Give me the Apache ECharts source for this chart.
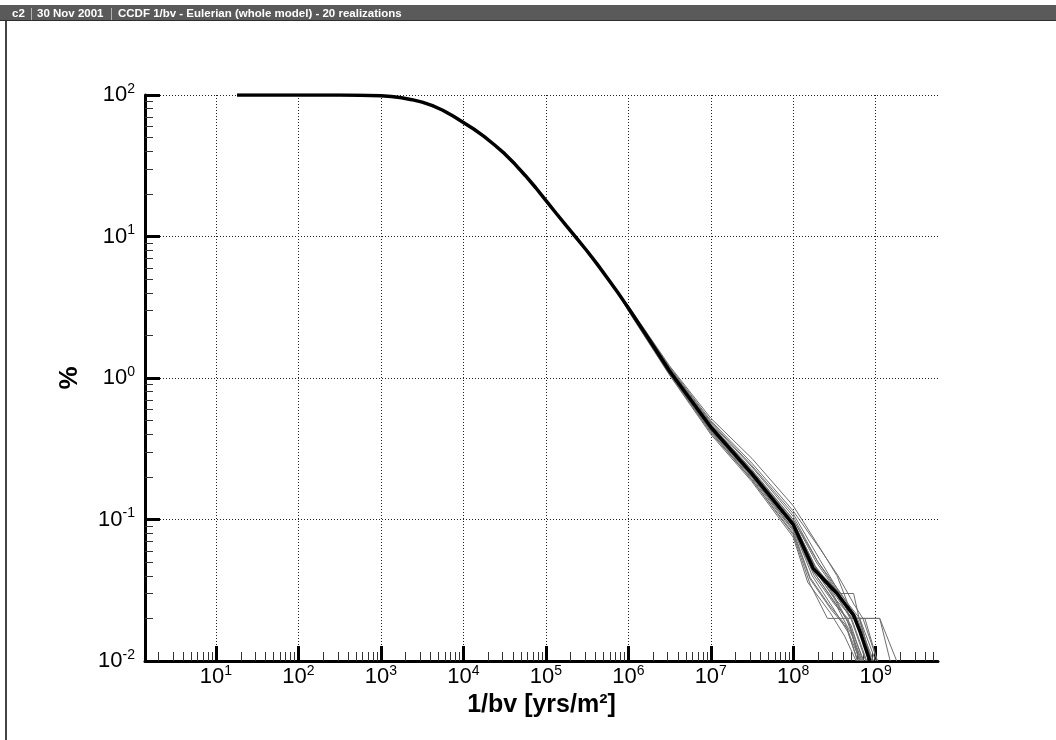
<!DOCTYPE html>
<html>
<head>
<meta charset="utf-8">
<script src="https://cdn.jsdelivr.net/npm/echarts@6/dist/echarts.min.js"></script>
<style>
html, body { margin: 0; padding: 0; background: #fff; }
#chart { width: 1056px; height: 740px; }
</style>
</head>
<body>
<div id="chart"></div>
<script>
// shared part of every realization (1/bv in yrs/m2, CCDF in %)
var headX = [18, 100, 316, 562, 1000, 1334, 1778, 2371, 3162, 4217, 5623, 7499, 10000, 13335, 17783, 23714,
    31623, 42170, 56234, 74989, 1e5, 133352, 177828, 237137, 316228, 421697, 562341, 749894];
var headY = [100, 100, 99.9, 99.6, 98.7, 97.5, 95.5, 92.7, 89, 84, 78, 71, 64, 57.5, 51, 44.5,
    38.5, 32.5, 27, 22.2, 18, 14.6, 11.9, 9.7, 7.9, 6.35, 5.05, 4.0];

// thick curve tail
var meanTail = [[1e6, 3.13], [1.78e6, 1.88], [3.16e6, 1.12], [5.62e6, 0.71], [1e7, 0.45], [3.16e7, 0.21],
    [1e8, 0.092], [1.75e8, 0.045], [3.4e8, 0.030], [5.4e8, 0.021], [6.5e8, 0.016], [8.5e8, 0.01]];

// the 20 realizations, tails from 1e6 on
var tails = [
    [[1e6, 3.05], [3.16e6, 1.10], [1e7, 0.43], [3.16e7, 0.20], [1e8, 0.085], [1.8e8, 0.04], [3.2e8, 0.025], [4.6e8, 0.02], [6.3e8, 0.01]],
    [[1e6, 3.18], [3.16e6, 1.15], [1e7, 0.47], [3.16e7, 0.22], [1e8, 0.10], [2e8, 0.05], [3.6e8, 0.03], [5e8, 0.02], [7.6e8, 0.01]],
    [[1e6, 3.10], [3.16e6, 1.12], [1e7, 0.45], [3.16e7, 0.21], [1e8, 0.094], [1.7e8, 0.05], [3e8, 0.03], [4.4e8, 0.02], [6.8e8, 0.01]],
    [[1e6, 3.22], [3.16e6, 1.20], [1e7, 0.50], [3.16e7, 0.25], [1e8, 0.115], [2.2e8, 0.06], [3.5e8, 0.04], [5.5e8, 0.025], [7e8, 0.02], [1.05e9, 0.01]],
    [[1e6, 3.00], [3.16e6, 1.06], [1e7, 0.41], [3.16e7, 0.19], [1e8, 0.078], [1.6e8, 0.035], [2.6e8, 0.02], [6.4e8, 0.02], [8.8e8, 0.01]],
    [[1e6, 3.15], [3.16e6, 1.14], [1e7, 0.46], [3.16e7, 0.22], [1e8, 0.097], [1.9e8, 0.045], [3.7e8, 0.03], [5.4e8, 0.03], [6.3e8, 0.02], [9e8, 0.01]],
    [[1e6, 3.08], [3.16e6, 1.10], [1e7, 0.44], [3.16e7, 0.205], [1e8, 0.09], [1.8e8, 0.042], [3.3e8, 0.025], [5.2e8, 0.015], [6.6e8, 0.01]],
    [[1e6, 3.25], [3.16e6, 1.22], [1e7, 0.52], [3.16e7, 0.27], [1e8, 0.125], [2.3e8, 0.058], [3.4e8, 0.04], [5.4e8, 0.02], [7.4e8, 0.02], [1.12e9, 0.02], [1.8e9, 0.01]],
    [[1e6, 3.12], [3.16e6, 1.13], [1e7, 0.45], [3.16e7, 0.215], [1e8, 0.095], [1.75e8, 0.046], [3.1e8, 0.028], [4.8e8, 0.018], [7.2e8, 0.01]],
    [[1e6, 2.98], [3.16e6, 1.05], [1e7, 0.40], [3.16e7, 0.185], [1e8, 0.075], [1.5e8, 0.036], [2.8e8, 0.022], [4.2e8, 0.015], [5.8e8, 0.01]],
    [[1e6, 3.20], [3.16e6, 1.17], [1e7, 0.48], [3.16e7, 0.235], [1e8, 0.105], [2e8, 0.05], [3.8e8, 0.03], [6e8, 0.02], [9.4e8, 0.01]],
    [[1e6, 3.14], [3.16e6, 1.11], [1e7, 0.44], [3.16e7, 0.21], [1e8, 0.092], [1.8e8, 0.044], [3.3e8, 0.027], [5.3e8, 0.02], [1.12e9, 0.02], [1.5e9, 0.01]],
    [[1e6, 3.06], [3.16e6, 1.09], [1e7, 0.43], [3.16e7, 0.20], [1e8, 0.086], [1.7e8, 0.04], [3e8, 0.024], [4.6e8, 0.016], [6.1e8, 0.01]],
    [[1e6, 3.17], [3.16e6, 1.15], [1e7, 0.47], [3.16e7, 0.225], [1e8, 0.10], [1.9e8, 0.05], [3.5e8, 0.03], [5.8e8, 0.02], [8.2e8, 0.01]],
    [[1e6, 3.02], [3.16e6, 1.07], [1e7, 0.42], [3.16e7, 0.19], [1e8, 0.08], [1.6e8, 0.038], [2.9e8, 0.023], [4.5e8, 0.017], [6e8, 0.01]],
    [[1e6, 3.11], [3.16e6, 1.12], [1e7, 0.45], [3.16e7, 0.21], [1e8, 0.094], [1.8e8, 0.045], [3.4e8, 0.028], [5.1e8, 0.02], [7.8e8, 0.01]],
    [[1e6, 3.21], [3.16e6, 1.18], [1e7, 0.49], [3.16e7, 0.24], [1e8, 0.11], [2.1e8, 0.052], [3.7e8, 0.03], [6.4e8, 0.02], [1.0e9, 0.01]],
    [[1e6, 3.09], [3.16e6, 1.11], [1e7, 0.44], [3.16e7, 0.205], [1e8, 0.09], [1.75e8, 0.043], [3.2e8, 0.026], [5e8, 0.018], [7e8, 0.01]],
    [[1e6, 3.13], [3.16e6, 1.13], [1e7, 0.46], [3.16e7, 0.215], [1e8, 0.096], [1.85e8, 0.047], [3.3e8, 0.03], [4.9e8, 0.02], [7.4e8, 0.02], [1.05e9, 0.01]],
    [[1e6, 3.04], [3.16e6, 1.08], [1e7, 0.42], [3.16e7, 0.195], [1e8, 0.083], [1.6e8, 0.039], [2.7e8, 0.025], [4.3e8, 0.018], [6.5e8, 0.01]]
];

var majorX = [10, 100, 1e3, 1e4, 1e5, 1e6, 1e7, 1e8, 1e9];
var majorY = [0.01, 0.1, 1, 10, 100];
var xMin = 1.377, xMax = 5.7e9;

var font = '"Liberation Sans", Arial, Helvetica, sans-serif';

function minorsOf(lo, hi) {
    var out = [];
    for (var p = Math.pow(10, Math.floor(Math.log10(lo))); p < hi; p *= 10) {
        for (var k = 2; k <= 9; k++) {
            var v = k * p;
            if (v > lo && v < hi) out.push(v);
        }
    }
    return out;
}

function powLabel(v) {
    return '{b|10}{s|' + Math.round(Math.log10(v)) + '}';
}
var labelRich = {
    b: { fontSize: 22, fontFamily: font, color: '#000', lineHeight: 26 },
    s: { fontSize: 14, fontFamily: font, color: '#000', lineHeight: 15, verticalAlign: 'top' }
};

var head = headX.map(function (x, i) { return [x, headY[i]]; });

var series = tails.map(function (t, i) {
    return {
        name: 'realization ' + (i + 1),
        type: 'line',
        data: head.concat(t),
        showSymbol: false,
        silent: true,
        lineStyle: { color: '#6e6e6e', width: 1 },
        z: 2
    };
});
series.push({
    name: 'mean',
    type: 'line',
    data: head.concat(meanTail),
    showSymbol: false,
    silent: true,
    lineStyle: { color: '#000', width: 3.5 },
    z: 3
});

var titleFont = 'bold 11.5px ' + font;

var myChart = echarts.init(document.getElementById('chart'));
myChart.setOption({
    backgroundColor: '#fff',
    animation: false,
    textStyle: { fontFamily: font },
    grid: { left: 145, top: 95, right: 118, bottom: 79, outerBoundsMode: 'none' },
    xAxis: [{
        type: 'log', logBase: 10, min: xMin, max: xMax,
        name: '1/bv [yrs/m²]', nameLocation: 'middle', nameGap: 28,
        nameTextStyle: { fontSize: 25, fontWeight: 'bold', color: '#000', fontFamily: font },
        axisLine: { lineStyle: { color: '#000', width: 3 } },
        axisTick: { customValues: majorX, inside: true, length: 15, lineStyle: { color: '#000', width: 3 } },
        axisLabel: { customValues: majorX, formatter: powLabel, rich: labelRich, margin: 3 },
        splitLine: { show: true, lineStyle: { color: '#222', width: 1, type: [1, 2] } }
    }, {
        type: 'log', logBase: 10, min: xMin, max: xMax, position: 'bottom',
        axisLine: { show: false },
        axisTick: { customValues: minorsOf(xMin, xMax), inside: true, length: 9, lineStyle: { color: '#333', width: 1 } },
        axisLabel: { show: false },
        splitLine: { show: false }
    }],
    yAxis: [{
        type: 'log', logBase: 10, min: 0.01, max: 100,
        name: '%', nameLocation: 'middle', nameGap: 62,
        nameTextStyle: { fontSize: 26, fontWeight: 'bold', color: '#000', fontFamily: font },
        axisLine: { lineStyle: { color: '#000', width: 3 } },
        axisTick: { customValues: majorY, inside: true, length: 15, lineStyle: { color: '#000', width: 3 } },
        axisLabel: { customValues: majorY, formatter: powLabel, rich: labelRich, margin: 10 },
        splitLine: { show: true, lineStyle: { color: '#222', width: 1, type: [1, 2] } }
    }, {
        type: 'log', logBase: 10, min: 0.01, max: 100, position: 'left',
        axisLine: { show: false },
        axisTick: { customValues: minorsOf(0.01, 100), inside: true, length: 8, lineStyle: { color: '#333', width: 1 } },
        axisLabel: { show: false },
        splitLine: { show: false }
    }],
    graphic: [
        { type: 'rect', shape: { x: 0, y: 5, width: 1056, height: 16 }, style: { fill: '#5a5a5a' } },
        { type: 'rect', shape: { x: 0, y: 20, width: 1056, height: 1 }, style: { fill: '#2e2e2e' } },
        { type: 'rect', shape: { x: 5, y: 21, width: 2, height: 719 }, style: { fill: '#444' } },
        { type: 'rect', shape: { x: 31, y: 8, width: 1, height: 12 }, style: { fill: '#b0b0b0' } },
        { type: 'rect', shape: { x: 111, y: 8, width: 1, height: 12 }, style: { fill: '#b0b0b0' } },
        { type: 'text', x: 12, y: 14, style: { text: 'c2', fill: '#fff', font: titleFont, verticalAlign: 'middle' } },
        { type: 'text', x: 37, y: 14, style: { text: '30 Nov 2001', fill: '#fff', font: titleFont, verticalAlign: 'middle' } },
        { type: 'text', x: 118, y: 14, style: { text: 'CCDF 1/bv - Eulerian (whole model) - 20 realizations', fill: '#fff', font: titleFont, verticalAlign: 'middle' } }
    ],
    series: series
});
</script>
</body>
</html>
